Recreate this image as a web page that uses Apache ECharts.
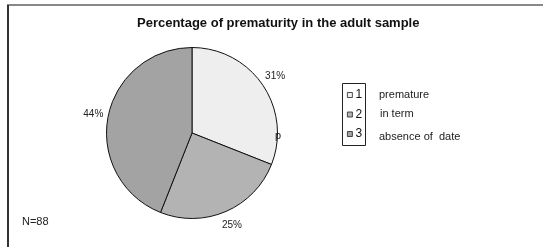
<!DOCTYPE html>
<html>
<head>
<meta charset="utf-8">
<script src="https://cdn.jsdelivr.net/npm/echarts@6/dist/echarts.min.js"></script>
<style>
  html, body { margin: 0; padding: 0; background: #fff; }
  #chart { width: 544px; height: 247px; }
</style>
</head>
<body>
<div id="chart"></div>
<script>
// legend keys, their descriptions and the share of each group (%)
const keys = ['1', '2', '3'];
const descriptions = ['premature', 'in term', 'absence of  date'];
const shares = [31, 25, 44];
const colors = ['#eeeeee', '#b3b3b3', '#a3a3a3'];

const chart = echarts.init(document.getElementById('chart'));
const font = 'Liberation Sans, Arial, sans-serif';

// description texts next to the legend box
const descTexts = descriptions.map((d, i) => ({
    type: 'text',
    left: [379, 380, 379][i],
    top: [89, 108, 131][i],
    style: { text: d, font: '11px ' + font, fill: '#222' }
}));

const option = {
    animation: false,
    title: {
        text: 'Percentage of prematurity in the adult sample',
        left: 137,
        top: 17,
        padding: 0,
        textStyle: { fontFamily: font, fontSize: 13, fontWeight: 'bold', color: '#111' }
    },
    legend: {
        orient: 'vertical',
        left: 347,
        top: 89,
        padding: 0,
        itemWidth: 5,
        itemHeight: 5,
        itemGap: 7.5,
        icon: 'rect',
        itemStyle: { borderWidth: 0.8, borderColor: '#222' },
        textStyle: { fontFamily: font, fontSize: 12, lineHeight: 12, color: '#111', padding: [0, 0, 0, -2] },
        data: keys
    },
    graphic: [
        // frame lines
        { type: 'line', shape: { x1: 7, y1: 5, x2: 543, y2: 5 }, style: { stroke: '#111', lineWidth: 1 } },
        { type: 'line', shape: { x1: 8, y1: 5, x2: 8, y2: 247 }, style: { stroke: '#333', lineWidth: 2 } },
        // legend box
        { type: 'rect', shape: { x: 342.5, y: 83.5, width: 23, height: 62 }, style: { fill: 'none', stroke: '#222', lineWidth: 1 } },
        { type: 'text', left: 22, top: 216, style: { text: 'N=88', font: '11px ' + font, fill: '#222' } },
        { type: 'text', left: 275, top: 130, z: 100, style: { text: 'p', font: '11px ' + font, fill: '#222' } }
    ].concat(descTexts),
    series: [{
        type: 'pie',
        center: [192, 133],
        radius: 85.5,
        startAngle: 90,
        clockwise: true,
        color: colors,
        itemStyle: { borderColor: '#111', borderWidth: 1 },
        label: {
            position: 'outside',
            formatter: '{c}%',
            fontFamily: font,
            fontSize: 10,
            color: '#222'
        },
        labelLine: { show: true, length: 15, length2: 0, lineStyle: { opacity: 0 } },
        // centre each label on the end of its (invisible) guide line
        labelLayout: function (params) {
            const pts = params.labelLinePoints;
            if (!pts) return {};
            const p = pts[pts.length - 1];
            return { x: p[0], y: p[1], align: 'center', verticalAlign: 'middle' };
        },
        emphasis: { disabled: true },
        data: keys.map((k, i) => ({ name: k, value: shares[i] }))
    }]
};
chart.setOption(option);
</script>
</body>
</html>
